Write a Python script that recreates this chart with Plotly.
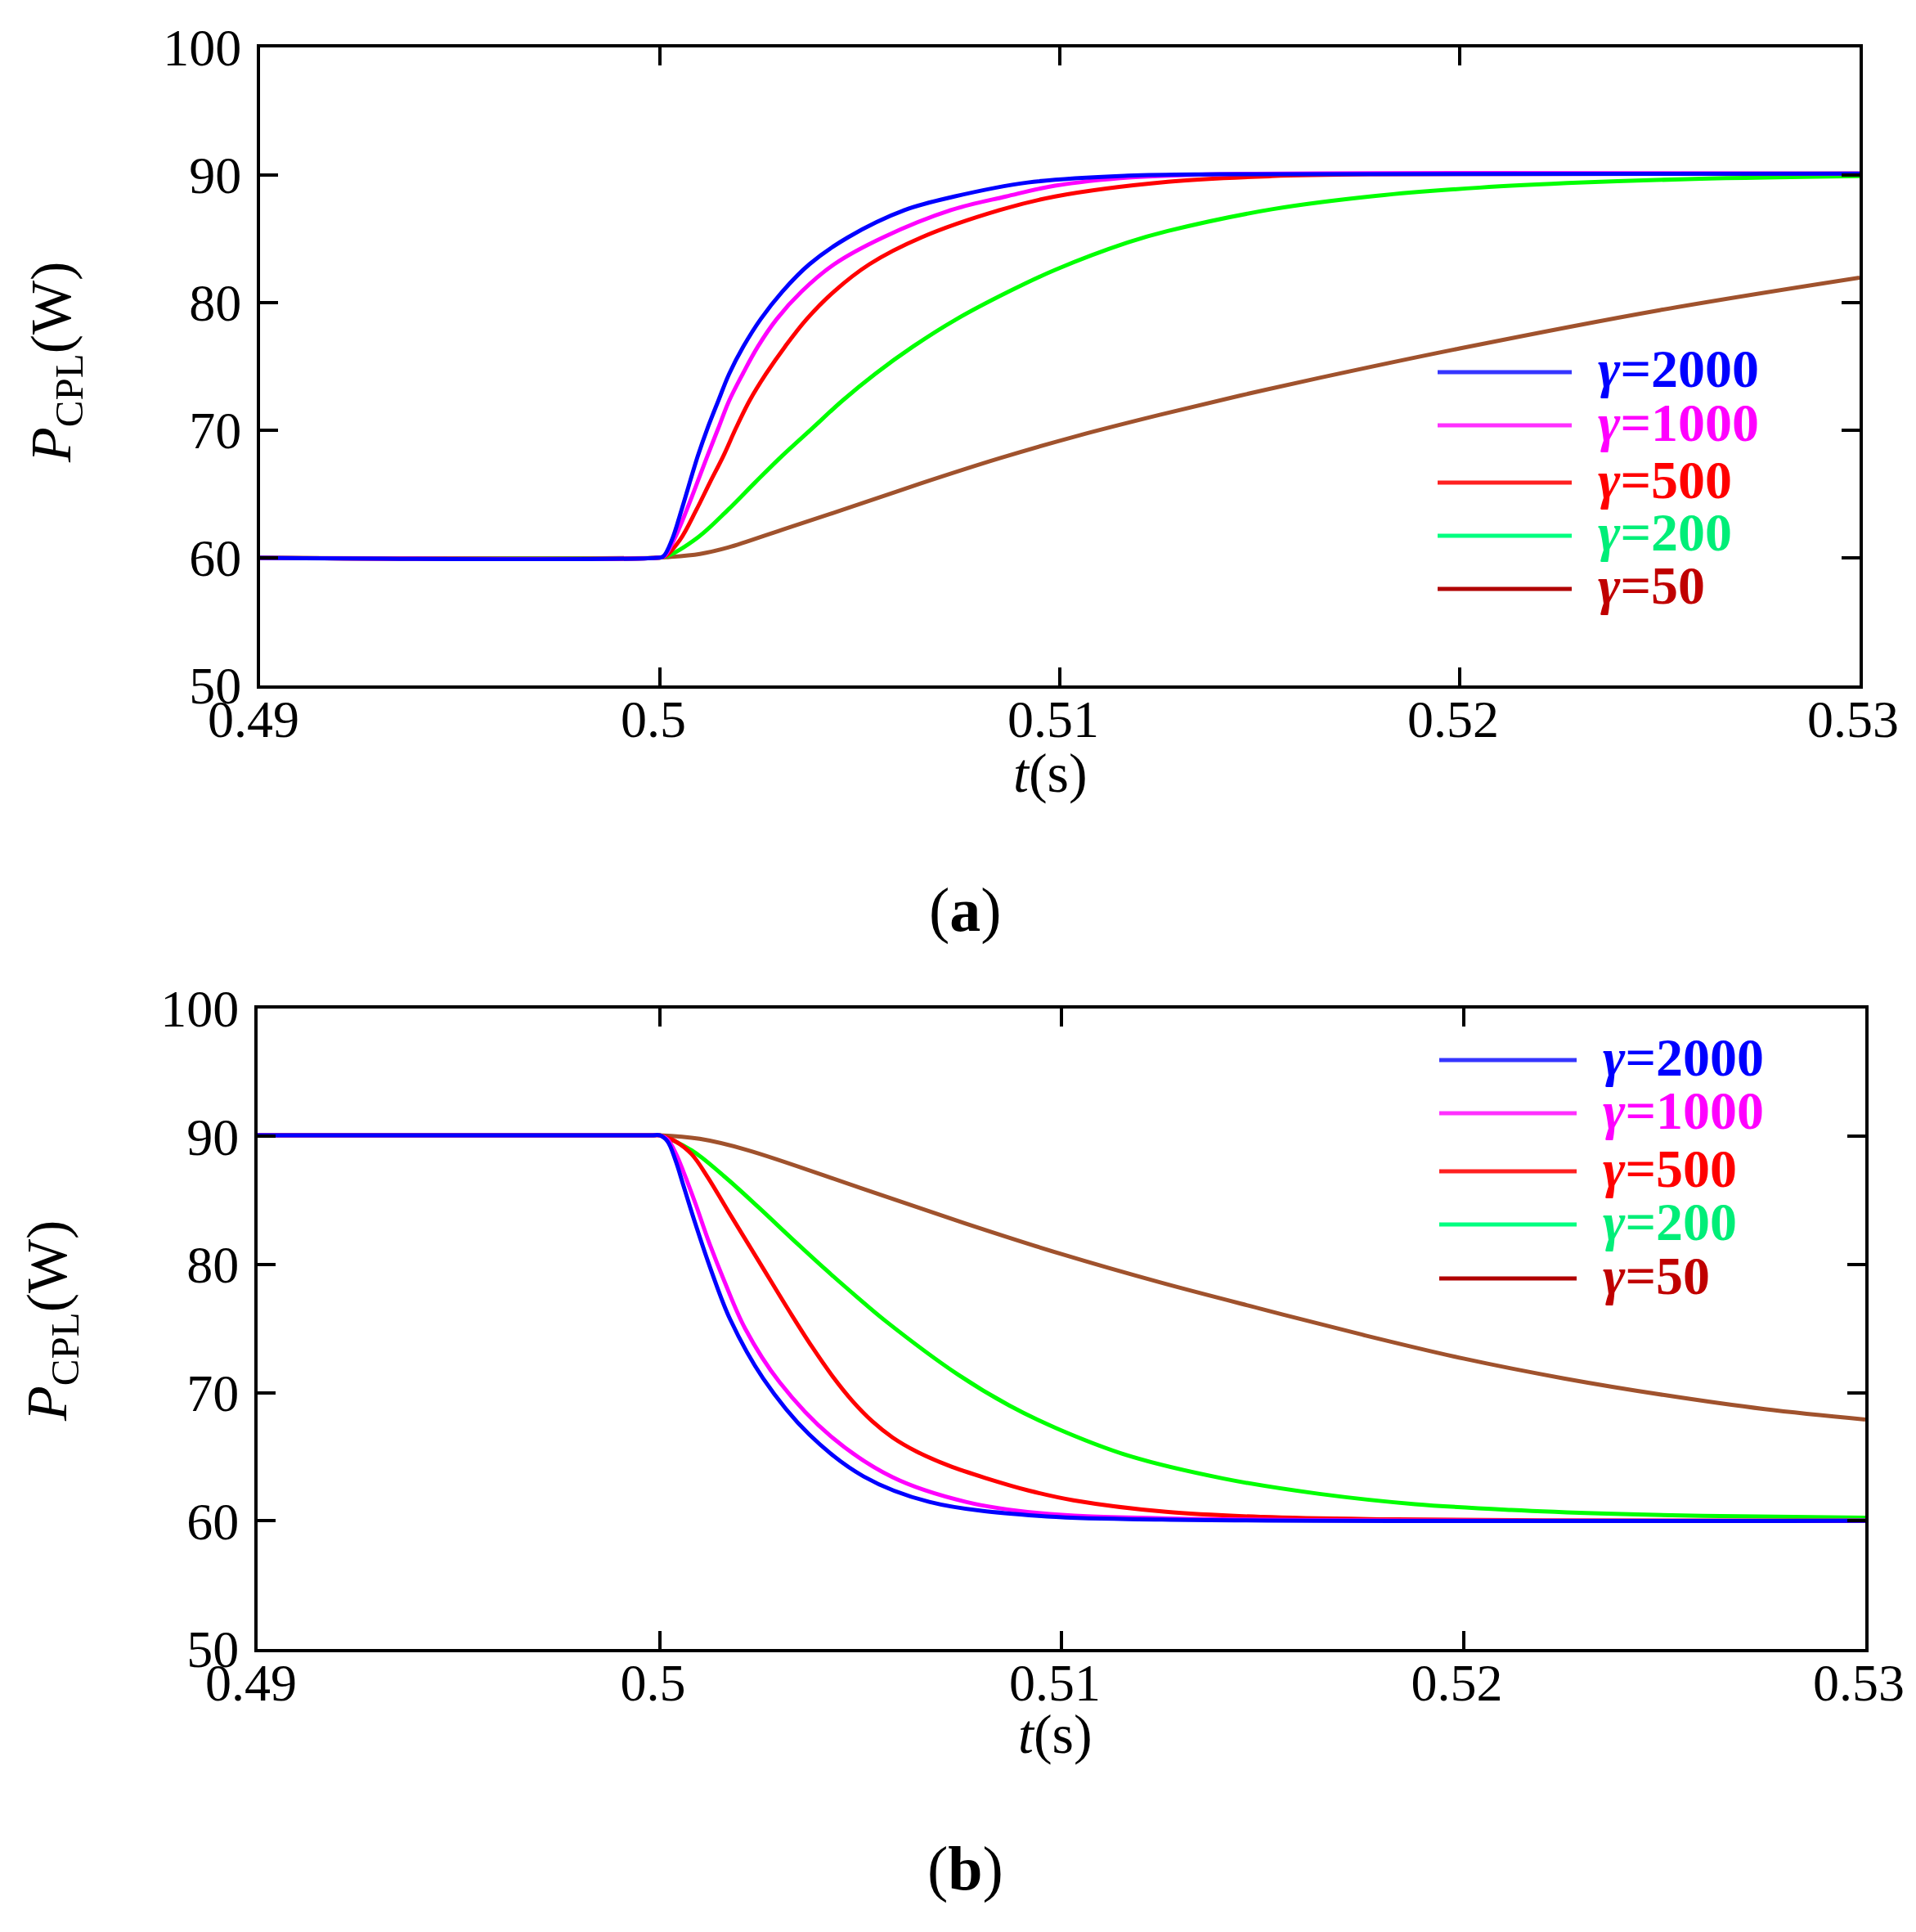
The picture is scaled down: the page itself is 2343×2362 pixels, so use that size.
import plotly.graph_objects as go

# ---------------- data ----------------
GAMMA_LABELS = ["2000", "1000", "500", "200", "50"]
X_TICKS = [0.49, 0.5, 0.51, 0.52, 0.53]
X_TICK_TEXT = ["0.49", "0.5", "0.51", "0.52", "0.53"]
Y_TICKS = [50, 60, 70, 80, 90, 100]
Y_TICK_TEXT = ["50", "60", "70", "80", "90", "100"]

# (a) power step 60 W -> 90 W
T_A_2000 = [0.49, 0.4999, 0.50008, 0.5003, 0.50054, 0.50095, 0.50119, 0.50146, 0.50173, 0.50209, 0.50252, 0.50306, 0.50374, 0.5047, 0.50613, 0.50736, 0.5092, 0.5117, 0.514, 0.53]
P_A_2000 = [60.0, 60.0, 60.1, 61.4, 63.75, 68.0, 70.15, 72.3, 74.4, 76.57, 78.7, 80.85, 83.0, 85.1, 87.25, 88.3, 89.4, 89.93, 90.05, 90.1]
T_A_1000 = [0.49, 0.4999, 0.5001, 0.50035, 0.50067, 0.50119, 0.50146, 0.50173, 0.50207, 0.50245, 0.50292, 0.50354, 0.50436, 0.50558, 0.50729, 0.50865, 0.50988, 0.5118, 0.514, 0.53]
P_A_1000 = [60.0, 60.0, 60.1, 61.4, 63.75, 68.0, 70.15, 72.3, 74.4, 76.55, 78.7, 80.85, 83.0, 85.1, 87.25, 88.3, 89.15, 89.8, 90.05, 90.1]
T_A_500 = [0.49, 0.4999, 0.50012, 0.5005, 0.50091, 0.50125, 0.50159, 0.5019, 0.50224, 0.50265, 0.50313, 0.50367, 0.50435, 0.50524, 0.50654, 0.50851, 0.50988, 0.5127, 0.5153, 0.518, 0.53]
P_A_500 = [60.0, 60.0, 60.1, 61.4, 63.75, 65.9, 68.0, 70.15, 72.3, 74.4, 76.55, 78.7, 80.85, 83.0, 85.1, 87.25, 88.3, 89.45, 89.9, 90.05, 90.1]
T_A_200 = [0.49, 0.4999, 0.50015, 0.50095, 0.5017, 0.50238, 0.50306, 0.50381, 0.50456, 0.50538, 0.50633, 0.50742, 0.50872, 0.50988, 0.5117, 0.5127, 0.5153, 0.5179, 0.5205, 0.5231, 0.5257, 0.53]
P_A_200 = [60.0, 60.0, 60.1, 61.6, 63.75, 65.9, 68.0, 70.15, 72.3, 74.4, 76.55, 78.7, 80.85, 82.55, 84.7, 85.6, 87.3, 88.35, 89.0, 89.4, 89.67, 89.9]
T_A_50 = [0.49, 0.4999, 0.5002, 0.501, 0.5017, 0.50306, 0.50456, 0.5065, 0.5085, 0.5105, 0.5125, 0.5145, 0.5165, 0.52, 0.525, 0.53]
P_A_50 = [60.0, 60.0, 60.05, 60.3, 60.8, 62.2, 63.75, 65.8, 67.8, 69.6, 71.2, 72.7, 74.1, 76.4, 79.4, 81.95]

# (b) power step 90 W -> 60 W
T_B_2000 = [0.49, 0.4998, 0.5, 0.5002, 0.5004, 0.5006, 0.5009, 0.5013, 0.50176, 0.50258, 0.50372, 0.50508, 0.50671, 0.50943, 0.5125, 0.53]
P_B_2000 = [90.08, 90.08, 90.08, 89.6, 88.1, 86.1, 83.1, 79.4, 75.7, 71.1, 66.75, 63.46, 61.48, 60.38, 60.1, 60.0]
T_B_1000 = [0.49, 0.4998, 0.5, 0.5002, 0.5004, 0.5006, 0.5009, 0.5012, 0.5016, 0.50213, 0.50299, 0.50426, 0.5058, 0.50762, 0.50943, 0.5125, 0.53]
P_B_1000 = [90.08, 90.08, 90.08, 89.75, 88.7, 87.2, 84.7, 82.0, 78.8, 75.0, 70.8, 66.6, 63.4, 61.48, 60.61, 60.2, 60.02]
T_B_500 = [0.49, 0.4998, 0.5, 0.5004, 0.5008, 0.5012, 0.5017, 0.5025, 0.5033, 0.5038, 0.5043, 0.5048, 0.5053, 0.5058, 0.5064, 0.5072, 0.5081, 0.5092, 0.5103, 0.5126, 0.515, 0.518, 0.522, 0.53]
P_B_500 = [90.08, 90.08, 90.08, 89.6, 88.6, 86.8, 84.2, 80.1, 76.0, 73.55, 71.3, 69.35, 67.75, 66.5, 65.4, 64.3, 63.35, 62.35, 61.6, 60.7, 60.3, 60.12, 60.04, 60.0]
T_B_200 = [0.49, 0.4998, 0.5, 0.5008, 0.5016, 0.50245, 0.5033, 0.50417, 0.5049, 0.50562, 0.50743, 0.5087, 0.50989, 0.51165, 0.51403, 0.51642, 0.5188, 0.52119, 0.52357, 0.52596, 0.53]
P_B_200 = [90.08, 90.08, 90.08, 88.9, 86.9, 84.5, 82.0, 79.5, 77.5, 75.6, 71.4, 69.0, 67.2, 65.1, 63.3, 62.1, 61.3, 60.85, 60.56, 60.38, 60.24]
T_B_50 = [0.49, 0.4998, 0.5, 0.501, 0.50217, 0.505, 0.5076, 0.51, 0.5125, 0.515, 0.5175, 0.52, 0.5225, 0.525, 0.5275, 0.53]
P_B_50 = [90.08, 90.08, 90.08, 89.8, 88.94, 85.97, 83.21, 80.81, 78.56, 76.51, 74.51, 72.66, 71.11, 69.81, 68.71, 67.9]

# ---------------- styles ----------------
CURVE_COLORS = ["#0000FF", "#FF00FF", "#FF0000", "#00FF00", "#A0522D"]
LEG_LINE_COLORS = ["#3535FF", "#FF30FF", "#FF2020", "#00FF80", "#B00000"]
LEG_TEXT_COLORS = ["#0000FF", "#FF00FF", "#FF0000", "#00EE78", "#C00000"]
FONT = "Liberation Serif"

PAGE_W, PAGE_H = 2343, 2362
BODY = 8  # default page margin around the plot div
W, H = PAGE_W - 2 * BODY, PAGE_H - 2 * BODY


def px(x):
    """page x pixel -> paper fraction"""
    return (x - BODY) / W


def py(y):
    """page y pixel (from top) -> paper fraction"""
    return 1 - (y - BODY) / H


fig = go.Figure()

series_a = [(T_A_2000, P_A_2000), (T_A_1000, P_A_1000), (T_A_500, P_A_500), (T_A_200, P_A_200), (T_A_50, P_A_50)]
series_b = [(T_B_2000, P_B_2000), (T_B_1000, P_B_1000), (T_B_500, P_B_500), (T_B_200, P_B_200), (T_B_50, P_B_50)]

for idx in [4, 3, 2, 1, 0]:
    t, p = series_a[idx]
    fig.add_trace(go.Scatter(x=t, y=p, mode="lines", xaxis="x", yaxis="y",
                             line=dict(color=CURVE_COLORS[idx], width=5, shape="spline", smoothing=1.0),
                             showlegend=False, hoverinfo="skip"))
for idx in [4, 3, 2, 1, 0]:
    t, p = series_b[idx]
    fig.add_trace(go.Scatter(x=t, y=p, mode="lines", xaxis="x2", yaxis="y2",
                             line=dict(color=CURVE_COLORS[idx], width=5, shape="spline", smoothing=1.0),
                             showlegend=False, hoverinfo="skip"))


def xaxis(domain, anchor):
    return dict(domain=domain, anchor=anchor, range=[0.49, 0.53], tickmode="array",
                tickvals=X_TICKS, ticktext=X_TICK_TEXT, ticks="inside", ticklen=22, tickwidth=4,
                tickcolor="black", showline=True, linewidth=4, linecolor="black", mirror="ticks",
                showgrid=False, zeroline=False, automargin=False,
                ticklabelstandoff=-18, ticklabelshift=-8,
                tickfont=dict(family=FONT, size=64, color="black"))


def yaxis(domain, anchor):
    return dict(domain=domain, anchor=anchor, range=[50, 100], tickmode="array",
                tickvals=Y_TICKS, ticktext=Y_TICK_TEXT, ticks="inside", ticklen=22, tickwidth=4,
                tickcolor="black", showline=True, linewidth=4, linecolor="black", mirror="ticks",
                showgrid=False, zeroline=False, automargin=False,
                ticklabelstandoff=6,
                tickfont=dict(family=FONT, size=64, color="black"))


annotations = []
shapes = []

# axis titles
for (xt, yt, xx, yx) in [(1285, 945, 68, 443), (1290, 2120, 63, 1615)]:
    annotations.append(dict(text="<i>t</i>(s)", x=px(xt), y=py(yt), xref="paper", yref="paper",
                            showarrow=False, xanchor="center", yanchor="middle",
                            font=dict(family=FONT, size=68, color="black")))
    annotations.append(dict(text="<i>P</i><sub>CPL</sub>(W)", x=px(xx), y=py(yx), xref="paper", yref="paper",
                            showarrow=False, xanchor="center", yanchor="middle", textangle=-90,
                            font=dict(family=FONT, size=70, color="black")))

# panel labels
annotations.append(dict(text="(<b>a</b>)", x=px(1180), y=py(1112), xref="paper", yref="paper",
                        showarrow=False, xanchor="center", yanchor="middle",
                        font=dict(family=FONT, size=76, color="black")))
annotations.append(dict(text="(<b>b</b>)", x=px(1180), y=py(2284), xref="paper", yref="paper",
                        showarrow=False, xanchor="center", yanchor="middle",
                        font=dict(family=FONT, size=76, color="black")))

# legends
for (lx0, lx1, tx, rows) in [
    (1758, 1922, 1952, [455, 520, 590, 655, 720]),
    (1760, 1928, 1958, [1296, 1361, 1432, 1497, 1563]),
]:
    for i, yy in enumerate(rows):
        shapes.append(dict(type="line", xref="paper", yref="paper",
                           x0=px(lx0), x1=px(lx1), y0=py(yy), y1=py(yy),
                           line=dict(color=LEG_LINE_COLORS[i], width=5)))
        annotations.append(dict(text="<b><i>γ</i>=" + GAMMA_LABELS[i] + "</b>", x=px(tx), y=py(yy - 4),
                                xref="paper", yref="paper", showarrow=False,
                                xanchor="left", yanchor="middle",
                                font=dict(family=FONT, size=66, color=LEG_TEXT_COLORS[i])))

fig.update_layout(
    width=W, height=H, autosize=False,
    margin=dict(l=0, r=0, t=0, b=0, autoexpand=False),
    paper_bgcolor="white", plot_bgcolor="white",
    xaxis=xaxis([px(318), px(2274)], "y"),
    yaxis=yaxis([py(838), py(57.7)], "x"),
    xaxis2=xaxis([px(315), px(2281)], "y2"),
    yaxis2=yaxis([py(2016), py(1232.5)], "x2"),
    annotations=annotations,
    shapes=shapes,
    showlegend=False,
)

fig.write_html("out.html")
